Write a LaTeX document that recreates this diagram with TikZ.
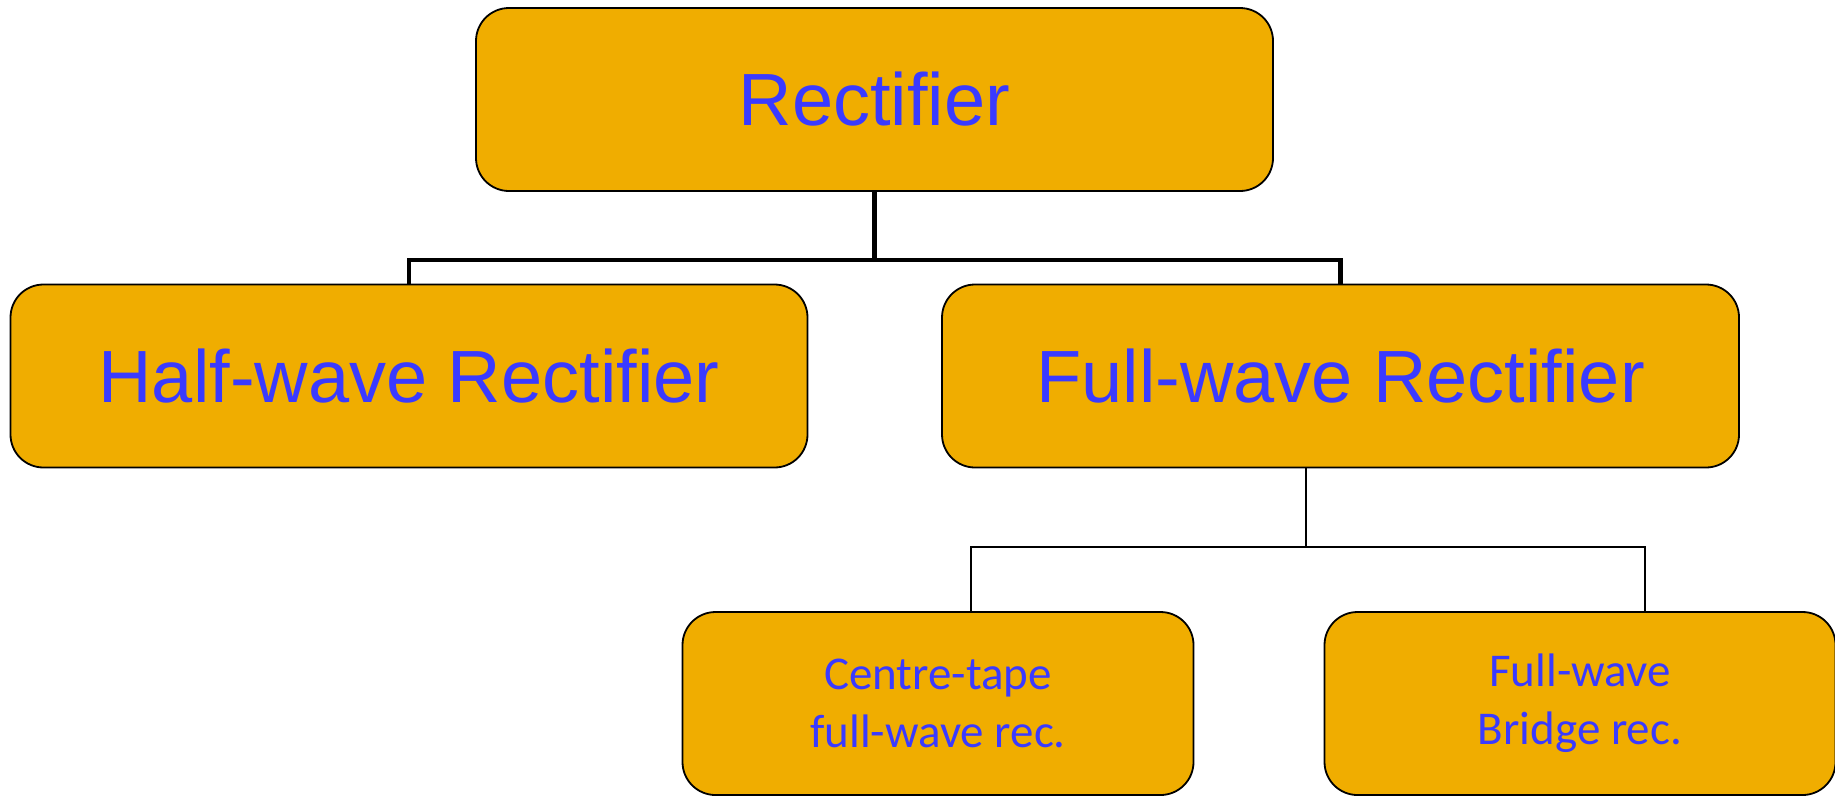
\documentclass[tikz,border=0pt]{standalone}
\usepackage{fontspec}
\setmainfont{Liberation Sans}
\newfontfamily\calib{Carlito}
\definecolor{boxfill}{RGB}{240,173,0}
\definecolor{txtblue}{RGB}{58,58,255}
\begin{document}
\begin{tikzpicture}[x=1pt,y=-1pt,
  box/.style={draw=black,line width=1.8pt,fill=boxfill,rounded corners=33pt,
    inner sep=0pt,text=txtblue,align=center},
  bigbox/.style={box,minimum width=797pt,minimum height=183pt,font=\fontsize{74}{80}\selectfont},
  smallbox/.style={box,minimum width=511pt,minimum height=183pt,font=\calib\fontsize{47}{58}\selectfont},
  thickline/.style={line width=4.5pt},
  thinline/.style={line width=2pt}]
\useasboundingbox (0,0) rectangle (1835,796);
\node[bigbox] (top) at (874.5,99.5) {Rectifier};
\node[bigbox] (half) at (409,376) {Half-wave Rectifier};
\node[bigbox] (full) at (1340.5,376) {Full-wave Rectifier};
\node[smallbox] (ct) at (938,703.5) {Centre-tape\\full-wave rec.};
\node[smallbox,minimum width=511pt] (br) at (1580,703.5) {Full-wave\\Bridge rec.};
\coordinate (j1) at (874.5,260);
\draw[thickline] (top.south) -- (j1);
\draw[thickline] (half.north) |- (j1) -| (full.north);
\coordinate (f1) at (1306,547);
\coordinate (c1) at (971,547);
\coordinate (c2) at (1645,547);
\draw[thinline] (f1 |- full.south) -- (f1);
\draw[thinline] (c1 |- ct.north) -- (c1) -- (c2) -- (c2 |- br.north);
\end{tikzpicture}
\end{document}
